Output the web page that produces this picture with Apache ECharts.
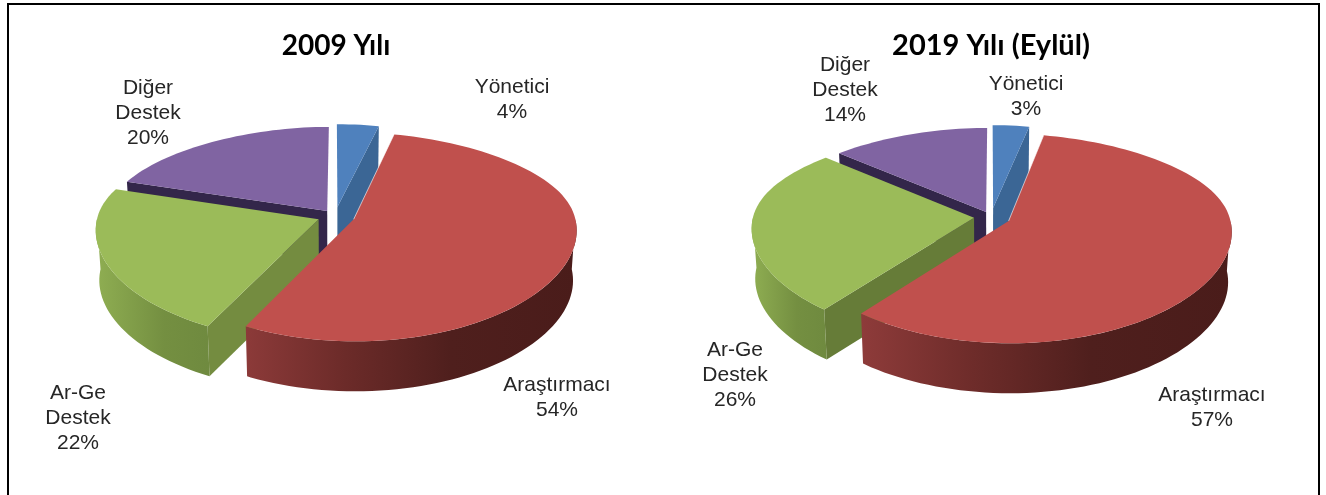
<!DOCTYPE html>
<html>
<head>
<meta charset="utf-8">
<title>Personel dağılımı</title>
<script src="https://cdn.jsdelivr.net/npm/echarts@6/dist/echarts.min.js"></script>
<style>
    html, body { margin: 0; padding: 0; background: #fff; }
    #main { width: 1326px; height: 495px; }
</style>
</head>
<body>
<div id="main"></div>
<script>
var categories = ['Yönetici', 'Araştırmacı', 'Ar-Ge Destek', 'Diğer Destek'];
// etiketler yuvarlanmis, dilim acilarindan bir ondalik tahmin edildi
var values2009 = [3.9, 53.6, 22.4, 20.1];
var values2019 = [3.4, 57.3, 25.6, 13.7];
var titles = ['2009 Yılı', '2019 Yılı (Eylül)'];

// excel tarzı 3B pasta: yatay R, dikey H, perspektif, derinlik
var R = 221, H = 103.4, persY = 0.17, persX = 0.1, depth = 50, shrink = 0.985;
var topColors = ['#4f81bd', '#c0504d', '#9bbb59', '#8064a2'];
var drawOrder = [1, 3, 2, 0]; // arkadan one boyama sirasi
var labelFont = '21px "Liberation Sans", Arial, sans-serif';

var chart = echarts.init(document.getElementById('main'));

function gradient(stops) {
    return new echarts.graphic.LinearGradient(0, 0, 1, 0, stops);
}

function makeSeries(name, values, cfg) {
    var total = values.reduce(function (a, b) { return a + b; }, 0);
    var rad = Math.PI / 180;

    function project(x, y, bottom) {
        var f = 1 + persX * y;
        if (y < 0) f -= persX * y * y;
        var px = cfg.cx + R * x * f;
        var py = cfg.cy + H * y * (1 + persY * y);
        if (bottom) {
            px = cfg.cx + (px - cfg.cx) * shrink;
            py += depth;
        }
        return [px, py];
    }

    return {
        type: 'custom',
        name: name,
        coordinateSystem: 'none',
        data: values.map(function (v, i) { return { name: categories[i], value: v }; }),
        renderItem: function (params) {
            var i = params.dataIndex;
            var start = 0;
            for (var k = 0; k < i; k++) start += values[k] / total * 360;
            var end = start + values[i] / total * 360;
            var mid = (start + end) / 2 * rad;
            var ox = cfg.explode[i] * Math.sin(mid);
            var oy = -cfg.explode[i] * Math.cos(mid);

            function rim(deg, bottom) {
                return project(ox + Math.sin(deg * rad), oy - Math.cos(deg * rad), bottom);
            }
            var apex = project(ox, oy), apexB = project(ox, oy, true);
            var z = drawOrder[i] * 10;
            var children = [];

            // ic duvarlar, sadece izleyiciye bakanlar
            if (-Math.sin(start * rad) > 0.001) {
                children.push({
                    type: 'polygon', z2: z + 1,
                    shape: { points: [apex, rim(start), rim(start, true), apexB] },
                    style: { fill: cfg.walls[i] }
                });
            }
            if (Math.sin(end * rad) > 0.001) {
                children.push({
                    type: 'polygon', z2: z + 1,
                    shape: { points: [apex, rim(end), rim(end, true), apexB] },
                    style: { fill: cfg.walls[i] }
                });
            }
            // dis duvar
            var a0 = Math.max(start, 90), a1 = Math.min(end, 270);
            if (a1 > a0) {
                var up = [], down = [];
                for (var a = a0; a < a1; a += 2) {
                    up.push(rim(a));
                    down.unshift(rim(a, true));
                }
                up.push(rim(a1));
                down.unshift(rim(a1, true));
                children.push({
                    type: 'polygon', z2: z + 2,
                    shape: { points: up.concat(down) },
                    style: { fill: cfg.rims[i] }
                });
            }
            // ust yuzey
            var pts = [apex];
            for (var b = start; b < end; b += 2) pts.push(rim(b));
            pts.push(rim(end));
            children.push({
                type: 'polygon', z2: z + 3,
                shape: { points: pts },
                style: { fill: topColors[i] }
            });
            // kirmizi dilimin mavi ile arasindaki ince acik cizgi
            if (i === 1) {
                var e0 = rim(start);
                children.push({
                    type: 'line', z2: z + 4,
                    shape: { x1: apex[0], y1: apex[1], x2: e0[0], y2: e0[1] },
                    style: { stroke: 'rgba(255,255,255,0.6)', lineWidth: 1 }
                });
            }
            // etiket
            children.push({
                type: 'text', z2: 100,
                style: {
                    text: categories[i].replace(' ', '\n') + '\n' + Math.round(values[i]) + '%',
                    x: cfg.labels[i][0], y: cfg.labels[i][1],
                    font: labelFont, lineHeight: 25,
                    fill: '#262626', align: 'center', verticalAlign: 'middle'
                }
            });
            return { type: 'group', children: children };
        }
    };
}

var option = {
    backgroundColor: '#fff',
    animation: false,
    title: [
        {
            text: titles[0], left: 331, top: 27, textAlign: 'center',
            textStyle: { fontFamily: 'Lato', fontWeight: 'bold', fontSize: 28, color: '#000' }
        },
        {
            text: titles[1], left: 986, top: 26, textAlign: 'center',
            textStyle: { fontFamily: 'Lato', fontWeight: 'bold', fontSize: 29, color: '#000' }
        }
    ],
    graphic: [
        {
            type: 'rect', silent: true,
            shape: { x: 8, y: 4, width: 1311, height: 530 },
            style: { fill: 'none', stroke: '#000', lineWidth: 2 }
        }
    ],
    series: [
        makeSeries(titles[0], values2009, {
            cx: 335, cy: 216,
            explode: [0.09, 0.09, 0.08, 0.06],
            walls: ['#3b6695', '#4d1d1b', '#748c40', '#33264a'],
            rims: ['#3b6695',
                gradient([{ offset: 0, color: '#8c3a39' }, { offset: 0.3, color: '#6c2b29' }, { offset: 0.62, color: '#4f1f1d' }, { offset: 1, color: '#4a1c1a' }]),
                gradient([{ offset: 0, color: '#8fae52' }, { offset: 0.6, color: '#748f41' }, { offset: 1, color: '#6f8a3f' }]),
                '#33264a'],
            labels: [[512, 100], [557, 398], [78, 418], [148, 113]]
        }),
        makeSeries(titles[1], values2019, {
            cx: 991, cy: 217,
            explode: [0.09, 0.088, 0.077, 0.053],
            walls: ['#3b6695', '#4d1d1b', '#667c38', '#33264a'],
            rims: ['#3b6695',
                gradient([{ offset: 0, color: '#8e3b3a' }, { offset: 0.3, color: '#6e2c2a' }, { offset: 0.62, color: '#4f1f1d' }, { offset: 1, color: '#4a1c1a' }]),
                gradient([{ offset: 0, color: '#8fae52' }, { offset: 0.6, color: '#748f41' }, { offset: 1, color: '#6f8a3f' }]),
                '#33264a'],
            labels: [[1026, 97], [1212, 408], [735, 375], [845, 90]]
        })
    ]
};
chart.setOption(option);
</script>
</body>
</html>
